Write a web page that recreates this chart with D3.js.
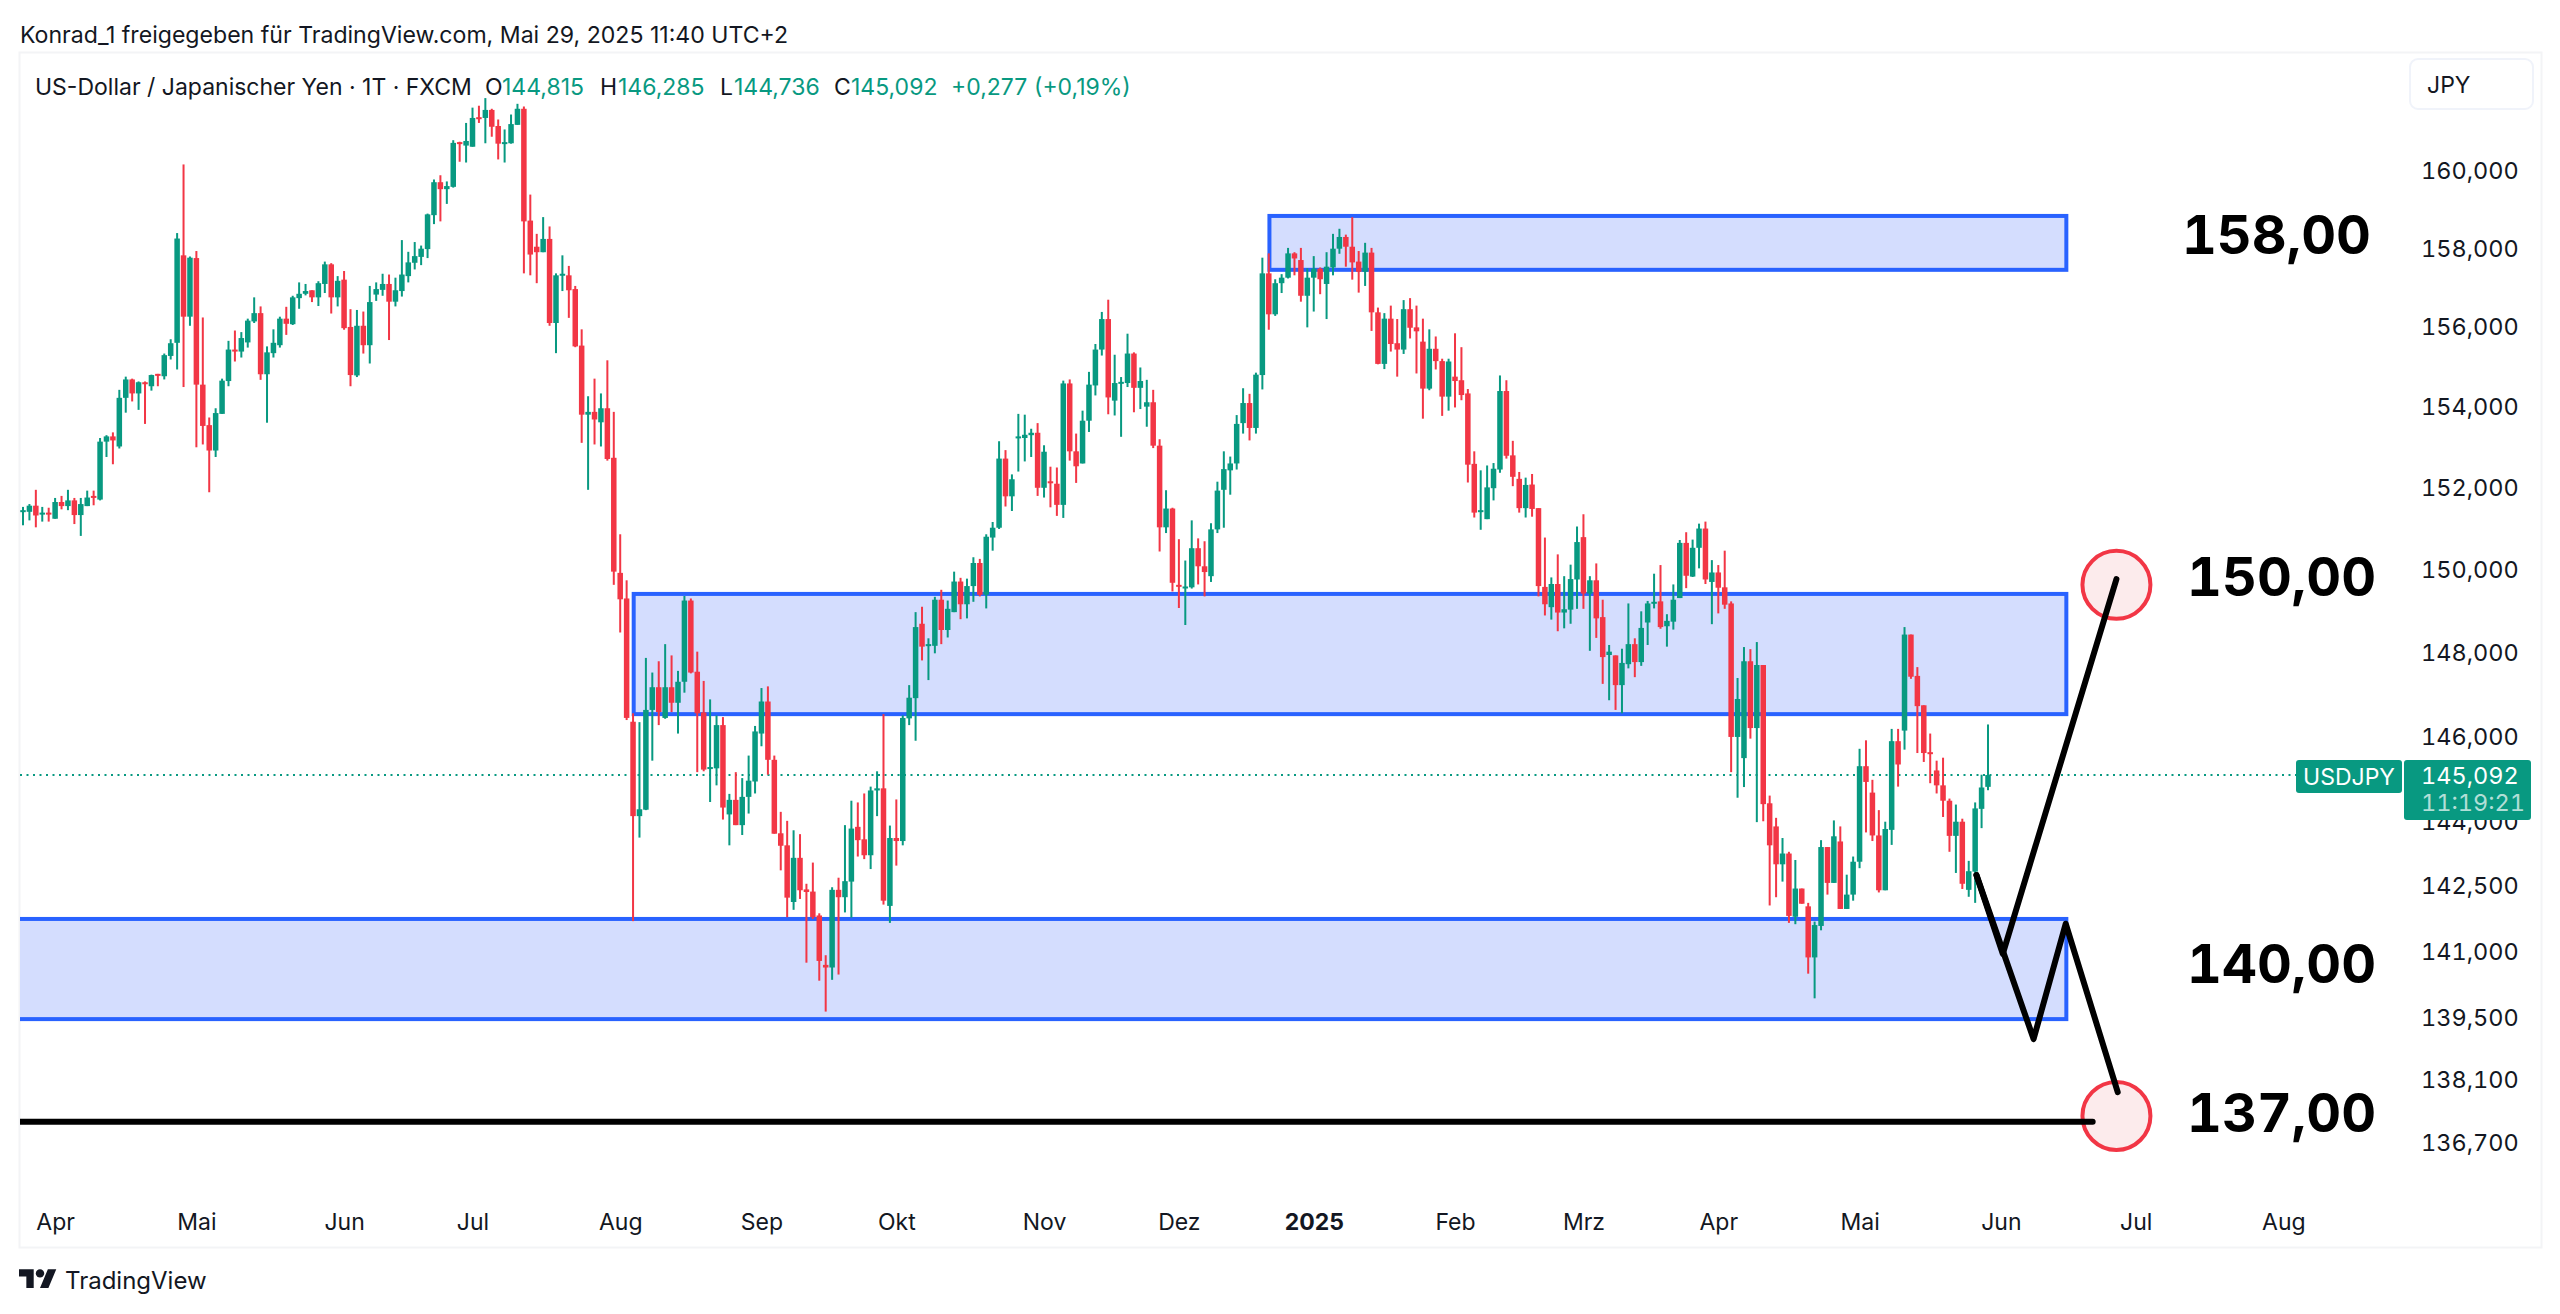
<!DOCTYPE html>
<html lang="de">
<head>
<meta charset="utf-8">
<title>USDJPY</title>
<script src="https://cdnjs.cloudflare.com/ajax/libs/d3/7.9.0/d3.min.js"></script>
<style>
html,body{margin:0;padding:0;background:#fff;}
svg{display:block;}
text{font-family:Inter,"Noto Sans",sans-serif;}
.tnum{font-variant-numeric:tabular-nums;font-feature-settings:"tnum" 1;}
</style>
</head>
<body>
<svg id="c" width="2560" height="1314"></svg>
<script>
// ---------- daily candles (JPY per USD) ----------
const opens = [
151.41,151.41,151.56,151.36,151.39,151.24,151.65,151.55,151.69,151.33,
151.55,151.80,151.71,153.14,153.27,153.02,154.23,154.69,154.34,154.62,
154.52,154.83,154.77,155.28,155.61,157.83,156.27,157.76,154.56,153.55,
152.92,153.83,154.65,155.44,155.39,155.62,156.15,156.36,154.82,155.35,
155.55,156.22,156.08,156.74,156.85,156.94,156.76,157.10,157.60,156.76,
157.21,156.01,154.79,156.04,155.55,156.83,156.95,157.10,156.65,156.92,
157.30,157.64,157.79,157.99,158.86,159.71,159.53,159.59,160.75,160.66,
160.63,161.40,161.38,161.59,161.17,160.71,160.72,161.20,161.62,158.72,
158.05,157.91,158.25,156.11,157.31,157.32,156.97,155.54,153.81,153.88,
153.62,153.97,152.74,149.92,149.30,146.35,144.13,144.28,146.63,147.17,
146.44,147.17,146.80,147.30,149.25,147.54,146.57,145.24,145.25,146.27,
144.17,144.51,143.92,144.58,144.94,146.07,146.83,145.45,143.73,143.45,
142.14,143.16,142.43,142.38,141.83,140.70,140.64,142.42,142.25,142.61,
143.88,143.59,143.22,144.73,144.78,142.05,143.62,143.55,146.43,146.91,
148.69,148.16,148.16,149.27,148.54,148.97,149.71,149.16,149.60,150.16,
149.39,150.78,151.02,152.72,151.79,153.23,153.23,153.30,153.36,152.00,
152.16,152.10,151.58,154.59,152.90,152.60,153.66,154.54,155.44,156.21,
154.16,154.59,154.60,155.34,154.48,154.01,154.12,153.04,151.03,151.49,
149.63,149.55,149.57,150.52,150.08,149.84,150.98,151.95,152.43,152.60,
153.60,154.10,153.48,154.80,157.37,156.33,157.12,157.26,157.88,157.71,
156.80,157.26,157.49,157.10,157.52,158.00,158.30,158.05,157.67,157.41,
157.90,156.38,155.08,156.22,155.60,155.44,156.46,156.00,155.64,154.46,
155.46,155.15,154.26,154.76,154.67,154.34,152.59,151.41,151.23,151.99,
152.45,154.40,152.80,152.22,151.50,152.08,151.50,149.58,149.09,149.65,
148.96,149.03,149.76,150.79,149.42,149.74,148.85,147.94,147.93,147.22,
147.72,148.20,147.77,148.72,149.18,149.23,148.63,148.74,149.31,150.65,
149.83,150.53,151.00,149.70,149.93,149.57,149.18,145.99,145.49,147.79,
146.20,147.70,144.43,143.89,143.01,143.26,141.80,142.45,142.04,140.87,
141.59,143.41,142.58,143.54,141.98,142.31,143.07,145.30,144.68,143.68,
142.41,143.81,145.89,146.14,148.43,147.44,146.74,145.63,145.20,144.85,
144.49,143.67,144.00,142.42,142.84,144.30,144.815];
const highs = [
151.53,151.60,151.95,151.53,151.51,151.75,151.80,151.95,151.75,151.75,
151.93,151.93,153.23,153.30,153.37,154.43,154.76,154.71,154.64,154.64,
154.81,154.83,155.34,155.70,158.40,160.17,157.80,157.94,156.25,153.74,
153.97,154.71,155.66,155.92,155.88,156.22,156.76,156.53,155.52,155.95,
156.27,156.52,156.80,157.14,157.10,156.94,157.17,157.67,157.63,157.30,
157.43,156.46,156.44,156.40,157.05,157.14,157.36,157.34,157.26,158.22,
157.92,158.17,158.08,158.90,159.78,159.89,159.73,160.80,160.76,161.25,
161.65,161.70,161.90,161.62,161.34,161.08,161.47,161.75,161.68,159.39,
158.38,158.81,158.57,157.37,157.83,157.56,157.05,155.95,154.27,154.71,
154.34,155.17,153.88,150.86,149.74,146.55,146.34,147.87,147.52,147.79,
148.20,147.93,147.56,149.36,149.30,148.02,147.32,146.88,146.50,146.46,
144.65,145.16,145.02,145.55,146.25,147.15,147.19,145.55,144.23,144.02,
143.80,143.71,142.56,143.05,141.88,140.92,142.48,142.70,143.92,144.49,
144.45,144.66,144.82,145.18,146.53,143.91,144.52,146.50,147.22,148.97,
149.10,148.34,149.34,149.51,149.25,149.95,149.80,149.78,150.30,150.26,
150.86,151.16,153.15,152.93,152.33,153.83,153.81,153.46,153.60,153.05,
152.52,152.50,154.66,154.69,153.34,153.91,154.88,155.58,156.39,156.70,
155.31,154.75,155.84,155.37,154.99,154.68,154.43,153.20,151.94,151.51,
150.74,150.22,151.20,150.76,150.69,151.13,152.15,152.90,152.77,153.80,
154.47,154.33,154.86,157.77,157.88,157.22,157.35,158.02,157.91,158.02,
157.50,157.81,157.52,157.91,158.38,158.51,158.36,158.81,157.94,158.15,
158.02,156.50,156.36,156.55,156.21,156.69,156.74,156.55,156.22,155.95,
155.77,155.21,155.21,155.85,155.50,154.45,152.90,152.43,152.55,152.61,
154.79,154.67,153.16,152.39,152.25,152.34,151.50,150.78,149.81,150.37,
149.84,150.12,151.05,151.35,149.84,150.15,149.27,148.18,147.93,148.09,
149.18,148.34,148.99,149.24,149.90,150.11,148.92,149.64,150.72,150.91,
150.73,151.12,151.17,150.23,150.11,150.46,149.23,147.39,148.13,148.08,
148.25,147.70,144.61,144.09,143.62,143.30,143.11,142.45,142.12,141.69,
143.57,143.41,144.03,143.89,142.77,143.19,145.71,145.91,144.98,144.27,
144.00,146.18,146.18,148.61,148.43,147.65,146.74,146.07,145.43,145.50,
144.54,144.40,144.07,143.09,144.45,145.10,146.285];
const lows = [
151.08,151.20,151.03,151.17,151.17,151.24,151.47,151.45,151.11,150.82,
151.55,151.57,151.69,152.76,152.58,152.97,153.86,154.14,153.93,153.58,
154.41,154.52,154.69,155.19,154.94,154.50,156.04,153.00,153.07,151.89,
152.76,153.83,154.52,155.14,155.24,155.49,156.11,154.68,153.61,155.24,
155.49,155.81,156.06,156.47,156.81,156.64,156.54,156.87,156.35,156.53,
155.94,154.52,154.75,155.34,155.09,156.67,156.80,155.68,156.53,156.78,
157.14,157.47,157.58,157.76,158.63,158.70,159.15,159.57,160.24,160.22,
160.63,161.25,160.72,160.89,160.30,160.22,160.71,161.20,157.37,157.32,
157.12,157.91,156.04,155.35,156.92,156.24,155.50,153.11,151.95,153.07,
153.02,152.67,149.63,148.48,146.39,141.70,143.63,144.27,145.43,146.27,
146.42,146.58,146.07,147.04,147.50,145.16,145.18,144.46,144.85,144.05,
143.45,143.92,143.69,144.19,144.66,145.77,145.10,143.72,142.87,141.79,
141.96,142.21,140.75,141.75,140.34,139.64,140.36,140.48,141.90,141.78,
143.19,143.13,142.90,144.13,142.08,141.66,142.98,143.45,146.27,145.90,
147.81,147.34,147.98,148.20,148.36,148.97,148.80,148.82,149.22,149.35,
149.06,150.46,150.99,151.54,151.43,152.40,152.65,152.76,151.80,151.76,
151.52,151.31,151.26,152.67,152.12,152.60,153.38,154.29,155.29,153.82,
153.79,153.26,154.50,153.87,153.95,153.51,152.98,150.44,150.89,149.47,
149.07,148.66,149.54,149.64,149.35,149.70,150.89,151.02,151.83,152.45,
153.34,153.17,153.34,154.44,155.94,156.29,156.87,157.24,157.32,156.65,
156.00,156.40,156.84,156.21,157.32,157.87,157.54,157.21,156.88,157.05,
155.91,155.07,154.95,155.39,154.76,155.33,155.72,154.84,153.71,154.42,
154.94,153.78,153.91,153.99,154.17,152.13,151.27,150.97,151.23,151.69,
152.37,152.72,152.04,151.39,151.27,151.29,149.35,148.89,148.79,148.51,
148.58,148.69,149.05,149.05,148.04,148.35,147.25,146.86,146.63,146.55,
147.62,147.41,147.68,148.18,149.06,148.57,148.14,148.55,149.31,149.55,
149.82,150.03,149.65,148.68,148.94,149.05,145.16,144.56,144.81,145.95,
143.99,144.01,142.06,142.25,142.61,141.66,141.63,142.10,140.50,139.94,
141.49,142.31,142.58,141.98,141.98,142.17,142.92,143.75,143.55,142.36,
142.41,143.46,144.82,145.69,147.37,145.61,145.40,144.90,144.66,144.11,
143.30,142.81,142.44,142.26,142.12,143.85,144.736];
const closes = [
151.45,151.56,151.32,151.39,151.36,151.65,151.55,151.69,151.33,151.60,
151.76,151.76,153.14,153.27,153.17,154.23,154.69,154.34,154.62,154.60,
154.80,154.80,155.30,155.60,158.26,156.27,157.77,154.56,153.53,152.92,
153.85,154.66,155.44,155.39,155.73,156.17,156.36,154.82,155.37,155.61,
156.22,156.09,156.76,156.85,156.92,156.76,157.12,157.60,156.76,157.18,
155.98,154.80,156.04,155.55,156.64,156.97,157.10,156.65,156.94,157.34,
157.65,157.81,158.00,158.88,159.71,159.53,159.61,160.73,160.72,160.78,
161.38,161.37,161.59,161.15,160.71,160.75,161.22,161.62,158.70,157.85,
157.91,158.25,156.11,157.32,157.36,156.94,155.52,153.81,153.88,153.69,
153.97,152.71,149.95,149.28,146.44,144.13,144.29,146.63,147.17,146.58,
147.17,146.80,147.30,149.25,147.52,146.55,145.22,145.28,146.27,144.33,
144.51,143.92,144.58,144.96,146.12,146.83,145.45,143.72,143.44,142.24,
143.16,142.41,142.37,141.79,140.79,140.64,142.42,142.25,142.62,143.84,
143.57,143.22,144.73,144.78,142.17,143.62,143.55,146.44,146.92,148.61,
148.14,148.20,149.27,148.54,149.05,149.71,149.16,149.60,150.16,149.39,
150.80,151.02,152.72,151.79,152.21,153.27,153.31,153.36,152.00,152.89,
152.13,151.58,154.59,152.90,152.53,153.66,154.56,155.44,156.21,154.24,
154.60,154.63,155.34,154.48,154.65,154.12,153.04,151.03,151.49,149.68,
149.59,149.59,150.52,150.08,149.94,150.98,151.93,152.46,152.60,153.58,
154.10,153.48,154.81,157.37,156.33,157.12,157.26,157.88,157.75,156.80,
157.26,157.49,157.22,157.54,158.00,158.30,158.05,157.65,157.41,157.90,
156.38,155.08,156.22,155.58,155.44,156.46,155.99,155.90,154.46,155.46,
155.15,154.26,155.14,154.65,154.30,152.57,151.39,151.45,152.01,152.47,
154.40,152.79,152.27,151.50,152.07,151.48,149.60,149.16,149.65,148.96,
149.04,149.77,150.67,149.42,149.74,148.82,147.89,148.02,147.22,147.75,
148.20,147.77,148.59,149.18,149.22,148.61,148.76,149.27,150.65,149.85,
150.53,151.00,149.76,149.93,149.56,149.15,145.99,146.89,147.79,146.20,
147.70,144.41,143.45,143.01,143.26,141.82,142.45,142.10,140.87,141.61,
143.41,142.58,143.66,141.98,142.31,143.07,145.30,144.93,143.68,142.41,
143.83,145.89,145.34,148.43,147.42,146.72,145.61,145.61,144.85,144.49,
143.67,144.00,142.56,142.85,144.31,144.80,145.092];

// ---------- axis labels ----------
const priceTicks = [160,158,156,154,152,150,148,146,144,142.5,141,139.5,138.1,136.7];
const monthIndex = [5,27,50,70,93,115,136,159,180,201,223,243,264,286,308,329,352];
const monthNames = ["Apr","Mai","Jun","Jul","Aug","Sep","Okt","Nov","Dez","2025","Feb","Mrz","Apr","Mai","Jun","Jul","Aug"];

// ---------- drawings on the chart, in (candle index, price) ----------
const zoneStart = [194.1,95.1,-5];
const zoneEnd   = [318.2,318.2,318.2];
const zoneHigh  = [158.84,149.41,141.75];
const zoneLow   = [157.46,146.53,139.47];
const pathUp    = [[304.2,142.76],[308.3,140.95],[326,149.77]];
const pathDown  = [[304.2,142.76],[313.1,139.02],[318.1,141.64],[326.2,137.83]];
const levelLine = [[-5,137.17],[322.3,137.17]];
const targets   = [[326,149.63],[326,137.30]];
const bigLabels = ["158,00","150,00","140,00","137,00"];
const bigPrices = [157.86,149.36,140.28,136.94];
const bigIndex  = [336.2,337,337,337];
const lastPrice = 145.092;

// ---------- texts ----------
const headerText = "Konrad_1 freigegeben für TradingView.com, Mai 29, 2025 11:40 UTC+2";
const legendParts = [
  ["US-Dollar / Japanischer Yen · 1T · FXCM",35,"#131722"],
  ["O",485,"#131722"],["144,815",502,"#089981"],
  ["H",600,"#131722"],["146,285",618,"#089981"],
  ["L",720,"#131722"],["144,736",734,"#089981"],
  ["C",834,"#131722"],["145,092",851,"#089981"],
  ["+0,277",951,"#089981"],["(+0,19%)",1034,"#089981"]
];

const UP = "#089981", DOWN = "#f23645", BLUE = "#2962ff";
const svg = d3.select("#c");

const x = d3.scaleLinear().domain([0,306]).range([23,1988]);
const y = d3.scaleLog().domain([160,136.7]).range([171,1143]);

// panel frame
svg.append("rect").attr("x",19.5).attr("y",52.5).attr("width",2522).attr("height",1195)
  .attr("fill","#fff").attr("stroke","#f3f4f6").attr("stroke-width",2);

svg.append("defs").append("clipPath").attr("id","plot").append("rect")
  .attr("x",20).attr("y",53).attr("width",2380).attr("height",1190);
const plot = svg.append("g").attr("clip-path","url(#plot)");

// zones
plot.append("g").selectAll("rect").data(zoneStart).join("rect")
  .attr("x",(d)=>x(d))
  .attr("width",(d,i)=>x(zoneEnd[i])-x(d))
  .attr("y",(d,i)=>y(zoneHigh[i]))
  .attr("height",(d,i)=>y(zoneLow[i])-y(zoneHigh[i]))
  .attr("fill","#d4ddfe").attr("stroke",BLUE).attr("stroke-width",4);

// last price line
plot.append("line").attr("x1",20).attr("x2",x(306)+310)
  .attr("y1",y(lastPrice)).attr("y2",y(lastPrice))
  .attr("stroke",UP).attr("stroke-width",2).attr("stroke-dasharray","2 4.5");

// candles
const idx = d3.range(opens.length);
const color = i => closes[i] >= opens[i] ? UP : DOWN;
plot.append("g").selectAll("rect").data(idx).join("rect")
  .attr("x",i=>x(i)-1).attr("width",2)
  .attr("y",i=>y(highs[i])).attr("height",i=>Math.max(1,y(lows[i])-y(highs[i])))
  .attr("fill",color);
plot.append("g").selectAll("rect").data(idx).join("rect")
  .attr("x",i=>x(i)-2.75).attr("width",5.5)
  .attr("y",i=>y(Math.max(opens[i],closes[i])))
  .attr("height",i=>Math.max(2,Math.abs(y(opens[i])-y(closes[i]))))
  .attr("fill",color);

// target circles, below the black paths
plot.append("g").selectAll("circle").data(targets).join("circle")
  .attr("cx",d=>x(d[0])).attr("cy",d=>y(d[1])).attr("r",34)
  .attr("fill","#fcebec").attr("stroke",DOWN).attr("stroke-width",4);

// black paths
const line = d3.line().x(d=>x(d[0])).y(d=>y(d[1]));
plot.append("g").selectAll("path").data([levelLine,pathUp,pathDown]).join("path")
  .attr("d",line).attr("fill","none").attr("stroke","#000")
  .attr("stroke-width",6).attr("stroke-linecap","round").attr("stroke-linejoin","round");

// big labels
svg.append("g").selectAll("text").data(bigLabels).join("text")
  .attr("class","tnum")
  .attr("x",(d,i)=>x(bigIndex[i])).attr("y",(d,i)=>y(bigPrices[i]))
  .attr("font-size",54).attr("font-weight",700).attr("fill","#000").text(d=>d);

// price axis
const yAxis = d3.axisRight(y).tickValues(priceTicks).tickSize(0).tickPadding(0)
  .tickFormat(d=>d.toFixed(3).replace(".",","));
const gy = svg.append("g").attr("transform","translate(2421,0)").call(yAxis);
gy.select(".domain").remove();
gy.selectAll("text").attr("class","tnum").attr("font-size",23.5).attr("fill","#131722").attr("font-family","Inter,sans-serif");

// time axis
const xAxis = d3.axisBottom(x).tickValues(monthIndex).tickSize(0).tickPadding(0)
  .tickFormat((d,i)=>monthNames[i]);
const gx = svg.append("g").attr("transform","translate(0,1222)").call(xAxis);
gx.select(".domain").remove();
gx.selectAll("text").attr("y",0).attr("dy","0.35em").attr("font-size",23).attr("fill","#131722")
  .attr("font-family","Inter,sans-serif")
  .attr("font-weight",(d,i)=>monthNames[i]==="2025"?700:400);

// last price tags
svg.append("rect").attr("x",2296).attr("y",760).attr("width",106).attr("height",33).attr("rx",3).attr("fill",UP);
svg.append("rect").attr("x",2404).attr("y",760).attr("width",127).attr("height",60).attr("rx",3).attr("fill",UP);
svg.append("text").attr("x",2349).attr("y",777).attr("dy","0.35em").attr("text-anchor","middle")
  .attr("font-size",23).attr("fill","#fff").text("USDJPY");
svg.append("text").attr("class","tnum").attr("x",2421).attr("y",776).attr("dy","0.35em")
  .attr("font-size",23.5).attr("fill","#fff").text("145,092");
svg.append("text").attr("class","tnum").attr("x",2421).attr("y",803).attr("dy","0.35em")
  .attr("font-size",23.5).attr("fill","#fff").attr("fill-opacity",0.7).text("11:19:21");

// currency button
svg.append("rect").attr("x",2410).attr("y",59).attr("width",123).attr("height",50).attr("rx",8)
  .attr("fill","#fff").attr("stroke","#f0f3fa").attr("stroke-width",2);
svg.append("text").attr("x",2427).attr("y",85).attr("dy","0.35em")
  .attr("font-size",23).attr("fill","#131722").text("JPY");

// header and legend
svg.append("text").attr("x",20).attr("y",35).attr("dy","0.35em")
  .attr("font-size",23.1).attr("fill","#131722").text(headerText);
svg.append("g").selectAll("text").data(legendParts).join("text")
  .attr("x",d=>d[1]).attr("y",87).attr("dy","0.35em")
  .attr("font-size",23).attr("fill",d=>d[2]).text(d=>d[0]);

// logo
const logo = svg.append("g").attr("transform","translate(19,1265) scale(1.05)").attr("fill","#131722");
logo.append("path").attr("d","M14 22H7V11H0V4h14v18zM28 22h-8l7.5-18h8L28 22z");
logo.append("circle").attr("cx",20).attr("cy",8).attr("r",4);
svg.append("text").attr("x",65).attr("y",1281).attr("dy","0.35em")
  .attr("font-size",24).attr("font-weight",400).attr("fill","#131722").text("TradingView");
</script>
</body>
</html>
